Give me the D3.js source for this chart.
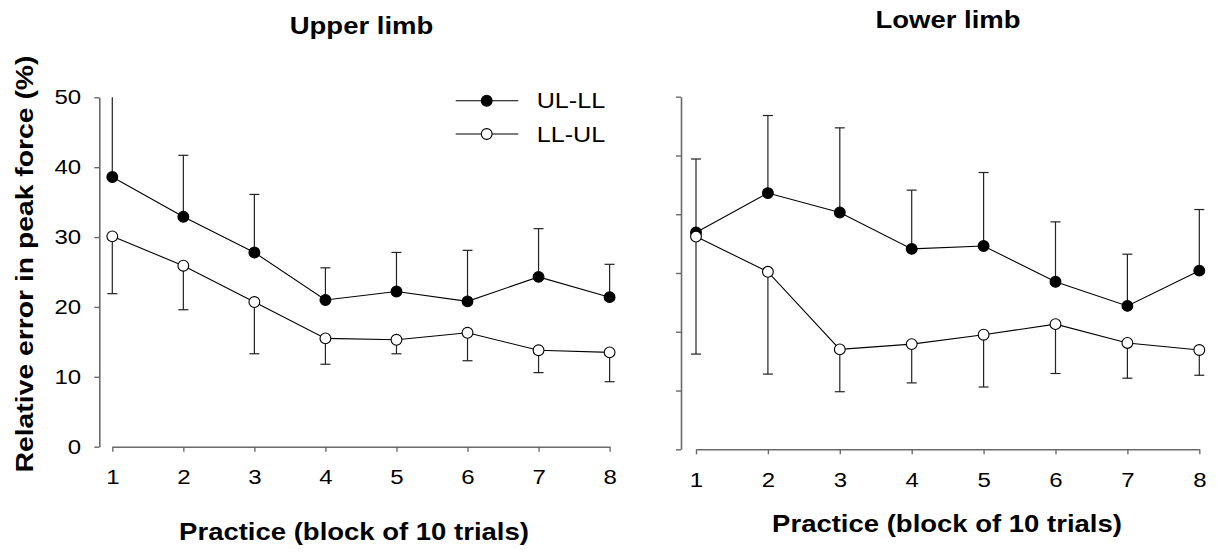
<!DOCTYPE html>
<html>
<head>
<meta charset="utf-8">
<script src="https://cdn.jsdelivr.net/npm/d3@7/dist/d3.min.js"></script>
<style>
  html, body { margin: 0; padding: 0; background: #fff; }
  svg { display: block; }
  text { font-family: "Liberation Sans", Arial, Helvetica, sans-serif; fill: #000; }
</style>
</head>
<body>
<svg id="chart" width="1217" height="555"></svg>
<script>
// Practice blocks (block of 10 trials)
const blocks = [1, 2, 3, 4, 5, 6, 7, 8];

// Upper limb: mean relative error (%) and SD
const upperULLL   = [38.6, 32.9, 27.8, 21.0, 22.2, 20.8, 24.3, 21.4];
const upperULLLsd = [12.0, 8.8, 8.3, 4.6, 5.6, 7.3, 6.9, 4.7];
const upperLLUL   = [30.1, 25.9, 20.7, 15.5, 15.3, 16.3, 13.8, 13.5];
const upperLLULsd = [8.2, 6.3, 7.4, 3.7, 2.0, 4.0, 3.2, 4.2];

// Lower limb: mean relative error (%) and SD
const lowerULLL   = [36.9, 43.6, 40.3, 34.1, 34.6, 28.5, 24.4, 30.4];
const lowerULLLsd = [12.5, 13.2, 14.4, 10.0, 12.5, 10.2, 8.8, 10.4];
const lowerLLUL   = [36.2, 30.2, 17.0, 17.9, 19.5, 21.3, 18.1, 16.9];
const lowerLLULsd = [20.0, 17.4, 7.2, 6.6, 8.9, 8.4, 6.0, 4.3];

const seriesNames = ["UL-LL", "LL-UL"];
const upperYTicks = [0, 10, 20, 30, 40, 50];
const lowerYTicks = [0, 10, 20, 30, 40, 50, 60];

const panelTitles = ["Upper limb", "Lower limb"];
const xTitle = "Practice (block of 10 trials)";
const yTitle = "Relative error in peak force (%)";

const svg = d3.select("#chart");
const SX = 1.17;          // horizontal stretch of the lettering
const AXIS_COLOR = "#6a6a6a";

function stretchedText(g, x, y, str, opts) {
  const sx = opts.sx || SX;
  const t = g.append("text")
    .attr("transform", `translate(${x},${y}) rotate(${opts.rotate || 0}) scale(${sx},1)`)
    .attr("text-anchor", opts.anchor || "middle")
    .attr("font-size", opts.size)
    .attr("font-weight", opts.bold ? "bold" : "normal")
    .text(str);
  if (opts.dy) t.attr("dy", opts.dy);
  return t;
}

function drawPanel(cfg) {
  const g = svg.append("g");
  const x = d3.scaleLinear().domain([1, 8]).range(cfg.xRange);
  const y = d3.scaleLinear().domain([0, d3.max(cfg.yTicks)]).range(cfg.yRange);
  const yMax = d3.max(cfg.yTicks);

  // x axis (detached, starts at first block)
  const xAxis = d3.axisBottom(x).tickValues(blocks).tickFormat(d3.format("d"))
    .tickSize(5).tickSizeOuter(0).tickPadding(18);
  const gx = g.append("g").attr("transform", `translate(0,${cfg.yRange[0]})`).call(xAxis);
  gx.select(".domain").attr("stroke", AXIS_COLOR).attr("stroke-width", 1.6);
  gx.selectAll(".tick line").attr("stroke", AXIS_COLOR).attr("stroke-width", 1.4);
  gx.selectAll(".tick text")
    .attr("font-size", 20.5)
    .attr("font-family", "Liberation Sans, Arial, sans-serif")
    .attr("fill", "#000")
    .attr("transform", `scale(${SX},1)`);

  // y axis
  const yAxis = d3.axisLeft(y).tickValues(cfg.yTicks).tickSize(5).tickSizeOuter(0)
    .tickPadding(10.6).tickFormat(cfg.showYLabels ? d3.format("d") : () => "");
  const gy = g.append("g").attr("transform", `translate(${cfg.yAxisX},0)`).call(yAxis);
  gy.select(".domain").attr("stroke", AXIS_COLOR).attr("stroke-width", 1.6);
  gy.selectAll(".tick line").attr("stroke", AXIS_COLOR).attr("stroke-width", 1.4);
  gy.selectAll(".tick text")
    .attr("font-size", 20.5)
    .attr("font-family", "Liberation Sans, Arial, sans-serif")
    .attr("fill", "#000")
    .attr("transform", `scale(${SX},1)`);

  const series = [
    { name: seriesNames[0], mean: cfg.ulll, sd: cfg.ulllSd, dir: 1, fill: "#000" },
    { name: seriesNames[1], mean: cfg.llul, sd: cfg.llulSd, dir: -1, fill: "#fff" }
  ];

  // error bars (UL-LL upward, LL-UL downward)
  series.forEach(s => {
    blocks.forEach((b, i) => {
      let end = s.mean[i] + s.dir * s.sd[i];
      let clipped = false;
      if (end > yMax) { end = yMax; clipped = true; }
      if (end < 0) { end = 0; clipped = true; }
      g.append("line")
        .attr("x1", x(b)).attr("x2", x(b))
        .attr("y1", y(s.mean[i])).attr("y2", y(end))
        .attr("stroke", "#222").attr("stroke-width", 1.2);
      if (!clipped) {
        g.append("line")
          .attr("x1", x(b) - 5).attr("x2", x(b) + 5)
          .attr("y1", y(end)).attr("y2", y(end))
          .attr("stroke", "#222").attr("stroke-width", 1.2);
      }
    });
  });

  // connecting lines
  const line = d3.line().x((d, i) => x(blocks[i])).y(d => y(d));
  series.forEach(s => {
    g.append("path").datum(s.mean).attr("d", line)
      .attr("fill", "none").attr("stroke", "#000").attr("stroke-width", 1.1);
  });

  // markers
  series.forEach(s => {
    g.selectAll(null).data(s.mean).enter().append("circle")
      .attr("cx", (d, i) => x(blocks[i])).attr("cy", d => y(d))
      .attr("r", 5.4)
      .attr("fill", s.fill).attr("stroke", "#000").attr("stroke-width", 1.1);
  });

  // titles
  stretchedText(g, cfg.titlePos[0], cfg.titlePos[1], cfg.title, { size: 23.5, bold: true });
  stretchedText(g, cfg.xTitlePos[0], cfg.xTitlePos[1], xTitle, { size: 23.5, bold: true });

  return { x, y, g };
}

drawPanel({
  xRange: [112.3, 609.6], yRange: [446.7, 97.3], yAxisX: 99.3,
  yTicks: upperYTicks, showYLabels: true,
  ulll: upperULLL, ulllSd: upperULLLsd, llul: upperLLUL, llulSd: upperLLULsd,
  title: panelTitles[0], titlePos: [361.5, 34], xTitlePos: [354, 540]
});

drawPanel({
  xRange: [696, 1199.3], yRange: [449.3, 96.7], yAxisX: 681,
  yTicks: lowerYTicks, showYLabels: false,
  ulll: lowerULLL, ulllSd: lowerULLLsd, llul: lowerLLUL, llulSd: lowerLLULsd,
  title: panelTitles[1], titlePos: [948, 28], xTitlePos: [947, 532]
});

// shared y-axis title
stretchedText(svg, 33, 264, yTitle, { size: 24.2, bold: true, rotate: -90 });

// legend
const legend = svg.append("g");
const legendRows = [
  { name: seriesNames[0], fill: "#000", y: 100.7 },
  { name: seriesNames[1], fill: "#fff", y: 134 }
];
legendRows.forEach(r => {
  legend.append("line").attr("x1", 455.7).attr("x2", 518.3)
    .attr("y1", r.y).attr("y2", r.y).attr("stroke", "#000").attr("stroke-width", 1.1);
  legend.append("circle").attr("cx", 486.7).attr("cy", r.y).attr("r", 5.4)
    .attr("fill", r.fill).attr("stroke", "#000").attr("stroke-width", 1.1);
  stretchedText(legend, 536.7, r.y, r.name, { size: 21.5, anchor: "start", dy: "0.36em" });
});
</script>
</body>
</html>
